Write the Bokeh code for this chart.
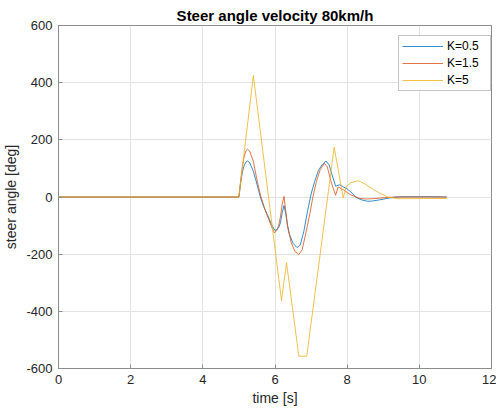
from bokeh.plotting import figure
from bokeh.models import Range1d, FixedTicker, Legend, LegendItem
from bokeh.embed import file_html
from bokeh.resources import INLINE

# ---- data ----
t_k05 = [0, 5.0, 5.05, 5.1, 5.15, 5.2, 5.24, 5.3, 5.4, 5.5, 5.6, 5.7, 5.8, 5.9, 6.0,
         6.1, 6.15, 6.2, 6.25, 6.3, 6.35, 6.4, 6.5, 6.61, 6.7, 6.8, 6.9, 7.0, 7.1,
         7.2, 7.3, 7.41, 7.5, 7.6, 7.68, 7.79, 7.9, 8.0, 8.1, 8.2, 8.3, 8.4, 8.57,
         8.7, 8.9, 9.1, 9.34, 9.6, 10.0, 10.4, 10.76]
y_k05 = [0, 0, 50, 90, 112, 123, 126, 120, 90, 45, -3, -38, -65, -95, -118,
         -108, -90, -55, -30, -60, -100, -130, -162, -177, -168, -120, -50, 10, 55,
         92, 112, 126, 112, 70, 38, 43, 35, 28, 18, 5, -5, -10, -15,
         -14, -10, -5, 0, 1, 1, 1, 0]

t_k15 = [0, 5.0, 5.05, 5.1, 5.15, 5.2, 5.24, 5.3, 5.4, 5.5, 5.6, 5.7, 5.8, 5.9, 5.98,
         6.05, 6.1, 6.15, 6.2, 6.25, 6.3, 6.35, 6.45, 6.55, 6.66, 6.75, 6.85, 6.97,
         7.05, 7.15, 7.25, 7.37, 7.45, 7.55, 7.68, 7.75, 7.9, 8.0, 8.1, 8.24, 8.35,
         8.52, 8.7, 8.9, 9.2, 9.5, 10.0, 10.76]
y_k15 = [0, 0, 60, 110, 145, 163, 167, 160, 125, 60, 5, -35, -70, -102, -125,
         -118, -100, -70, -25, 2, -50, -105, -160, -190, -201, -185, -130, -56,
         0, 55, 95, 118, 105, 55, 6, 35, 25, 16, 8, 0, -5,
         -7, -6, -4, -1, 0, 0, 0]

t_k5 = [0, 5.0, 5.4, 6.18, 6.32, 6.66, 6.88, 7.64, 7.89, 7.98, 8.1, 8.31, 8.5,
        8.7, 8.9, 9.12, 9.4, 10.76]
y_k5 = [0, 0, 425, -362, -230, -557, -557, 174, -3, 37, 50, 57, 45,
        28, 14, 0, -6, -5]

series_labels = ["K=0.5", "K=1.5", "K=5"]
series_colors = ["#0072BD", "#D95319", "#EDB120"]

x_ticks = [0, 2, 4, 6, 8, 10, 12]
x_tick_labels = ["0", "2", "4", "6", "8", "10", "12"]
y_ticks = [-600, -400, -200, 0, 200, 400, 600]
y_tick_labels = ["-600", "-400", "-200", "0", "200", "400", "600"]

FONT = "Liberation Sans"
AX = "#8c8c8c"
TXT = "#262626"

p = figure(width=496, height=408, output_backend="svg", toolbar_location=None,
           x_range=Range1d(0, 12), y_range=Range1d(-600, 600),
           min_border_left=58, min_border_right=5, min_border_top=25,
           min_border_bottom=38, background_fill_color="white",
           border_fill_color="white")

p.title.text = "Steer angle velocity 80km/h"
p.title.text_font = FONT
p.title.text_font_size = "15px"
p.title.text_font_style = "bold"
p.title.text_color = "#000000"
p.title.align = "center"
p.title.standoff = 4
p.title.offset = 0

p.outline_line_color = AX
p.outline_line_width = 1

for ax, ticks, labels in ((p.xaxis[0], x_ticks, x_tick_labels),
                          (p.yaxis[0], y_ticks, y_tick_labels)):
    ax.ticker = FixedTicker(ticks=ticks)
    ax.major_label_overrides = {tk: lb for tk, lb in zip(ticks, labels)}
    ax.major_tick_in = 4
    ax.major_tick_out = 0
    ax.minor_tick_line_color = None
    ax.axis_line_color = AX
    ax.major_tick_line_color = AX
    ax.major_label_text_font = FONT
    ax.major_label_text_font_size = "13px"
    ax.major_label_text_color = TXT
    ax.axis_label_text_font = FONT
    ax.axis_label_text_font_size = "14px"
    ax.axis_label_text_font_style = "normal"
    ax.axis_label_text_color = TXT

p.xaxis.axis_label = "time [s]"
p.xaxis.major_label_standoff = 6
p.xaxis.axis_label_standoff = 3
p.yaxis.axis_label = "steer angle [deg]"
p.yaxis.major_label_standoff = 6
p.yaxis.axis_label_standoff = 4

p.xgrid.ticker = FixedTicker(ticks=x_ticks)
p.ygrid.ticker = FixedTicker(ticks=y_ticks)
p.grid.grid_line_color = "#e3e3e3"
p.grid.grid_line_width = 1

items = []
for tt, yy, lab, col in ((t_k05, y_k05, series_labels[0], series_colors[0]),
                         (t_k15, y_k15, series_labels[1], series_colors[1]),
                         (t_k5, y_k5, series_labels[2], series_colors[2])):
    r = p.line(tt, yy, line_color=col, line_width=1, line_alpha=0.8)
    items.append(LegendItem(label=lab, renderers=[r]))

legend = Legend(items=items, location=(340, 277))
legend.label_text_font = FONT
legend.label_text_font_size = "12px"
legend.label_text_color = "#000000"
legend.border_line_color = "#8a8a8a"
legend.border_line_width = 1
legend.background_fill_color = "white"
legend.background_fill_alpha = 1
legend.padding = 3
legend.spacing = 3
legend.glyph_width = 41
legend.glyph_height = 14
legend.label_height = 14
legend.label_width = 40
legend.label_standoff = 4
legend.margin = 0
p.add_layout(legend, "center")

open("out.html", "w").write(file_html(p, INLINE))
